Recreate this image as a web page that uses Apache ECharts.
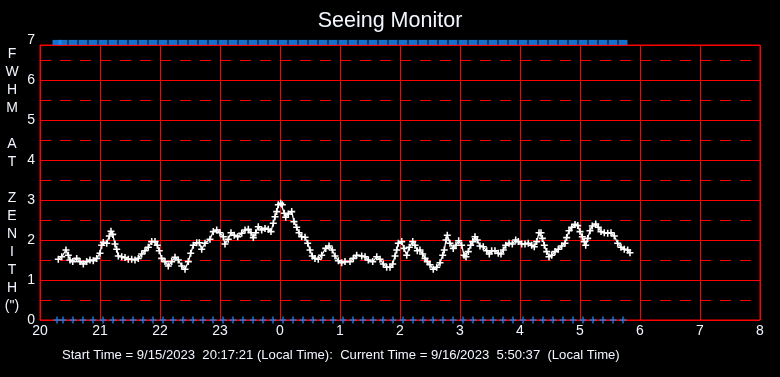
<!DOCTYPE html>
<html>
<head>
<meta charset="utf-8">
<script src="https://cdn.jsdelivr.net/npm/echarts@6/dist/echarts.min.js"></script>
<style>
  html, body { margin: 0; padding: 0; background: #000; }
  #chart { width: 780px; height: 377px; }
</style>
</head>
<body>
<div id="chart"></div>
<script>
// hour of night (20 = 20:00, 24 = 0:00, 29.5 = 5:30)
const obsHours = [
  20.305, 20.362, 20.433, 20.472, 20.500, 20.545, 20.612, 20.667, 20.722, 20.778,
  20.833, 20.888, 20.945, 21.000, 21.028, 21.055, 21.112, 21.155, 21.183, 21.212,
  21.250, 21.278, 21.305, 21.362, 21.417, 21.472, 21.528, 21.583, 21.638, 21.695,
  21.750, 21.805, 21.862, 21.917, 21.955, 21.988, 22.028, 22.083, 22.138, 22.195,
  22.250, 22.305, 22.362, 22.417, 22.472, 22.512, 22.555, 22.612, 22.655, 22.695,
  22.750, 22.833, 22.888, 22.945, 23.000, 23.055, 23.083, 23.138, 23.183, 23.238,
  23.295, 23.362, 23.417, 23.472, 23.517, 23.555, 23.595, 23.638, 23.695, 23.750,
  23.805, 23.850, 23.888, 23.917, 23.945, 23.972, 24.012, 24.038, 24.072, 24.095,
  24.138, 24.195, 24.233, 24.278, 24.317, 24.362, 24.417, 24.462, 24.500, 24.538,
  24.583, 24.638, 24.695, 24.762, 24.817, 24.872, 24.917, 24.972, 25.028, 25.083,
  25.167, 25.222, 25.278, 25.362, 25.417, 25.472, 25.545, 25.612, 25.667, 25.722,
  25.778, 25.833, 25.878, 25.917, 25.945, 25.972, 26.028, 26.067, 26.112, 26.155,
  26.212, 26.250, 26.288, 26.333, 26.378, 26.417, 26.455, 26.500, 26.555, 26.612,
  26.667, 26.712, 26.738, 26.767, 26.788, 26.833, 26.888, 26.933, 26.978, 27.028,
  27.067, 27.100, 27.138, 27.178, 27.212, 27.250, 27.288, 27.333, 27.388, 27.445,
  27.488, 27.528, 27.583, 27.638, 27.683, 27.722, 27.762, 27.817, 27.872, 27.928,
  27.972, 28.028, 28.083, 28.138, 28.195, 28.238, 28.278, 28.317, 28.350, 28.372,
  28.405, 28.445, 28.483, 28.528, 28.583, 28.638, 28.695, 28.750, 28.778, 28.817,
  28.862, 28.917, 28.962, 29.000, 29.038, 29.072, 29.095, 29.128, 29.167, 29.205,
  29.262, 29.305, 29.350, 29.405, 29.462, 29.517, 29.572, 29.628, 29.683, 29.738,
  29.795, 29.833
];
const fwhmValues = [
  1.52, 1.58, 1.75, 1.62, 1.50, 1.46, 1.54, 1.46, 1.40, 1.46,
  1.50, 1.48, 1.54, 1.67, 1.87, 1.94, 1.92, 2.10, 2.22, 2.14,
  1.90, 1.77, 1.60, 1.58, 1.56, 1.52, 1.52, 1.50, 1.54, 1.65,
  1.73, 1.82, 1.96, 1.96, 1.87, 1.73, 1.54, 1.46, 1.35, 1.46,
  1.57, 1.50, 1.35, 1.27, 1.46, 1.67, 1.87, 1.93, 1.93, 1.77,
  1.92, 2.02, 2.21, 2.25, 2.18, 2.08, 1.90, 2.02, 2.18, 2.12,
  2.08, 2.17, 2.25, 2.27, 2.18, 2.06, 2.18, 2.33, 2.25, 2.29,
  2.27, 2.21, 2.42, 2.58, 2.71, 2.88, 2.92, 2.88, 2.67, 2.57,
  2.65, 2.71, 2.46, 2.32, 2.18, 2.08, 2.07, 1.92, 1.75, 1.60,
  1.54, 1.52, 1.62, 1.79, 1.85, 1.75, 1.60, 1.48, 1.43, 1.46,
  1.46, 1.54, 1.62, 1.60, 1.58, 1.50, 1.46, 1.58, 1.52, 1.40,
  1.32, 1.32, 1.40, 1.60, 1.75, 1.92, 1.96, 1.79, 1.62, 1.82,
  1.96, 1.87, 1.73, 1.75, 1.65, 1.54, 1.46, 1.38, 1.27, 1.32,
  1.43, 1.62, 1.75, 2.00, 2.12, 1.92, 1.79, 1.87, 1.98, 1.87,
  1.62, 1.58, 1.71, 1.87, 1.96, 2.08, 2.00, 1.85, 1.83, 1.73,
  1.65, 1.73, 1.73, 1.67, 1.65, 1.75, 1.87, 1.92, 1.90, 2.00,
  1.96, 1.90, 1.90, 1.92, 1.87, 1.83, 1.96, 2.18, 2.18, 2.04,
  1.87, 1.71, 1.58, 1.62, 1.71, 1.77, 1.85, 1.92, 2.06, 2.23,
  2.32, 2.39, 2.36, 2.21, 2.08, 1.96, 1.87, 2.04, 2.23, 2.35,
  2.40, 2.32, 2.21, 2.18, 2.17, 2.18, 2.10, 1.92, 1.82, 1.77,
  1.75, 1.68
];
// status markers (blue), clock times
const markTimes = [
  "20:17", "20:23", "20:33", "20:43", "20:53",
  "21:03", "21:13", "21:23", "21:33", "21:43", "21:53",
  "22:03", "22:13", "22:23", "22:33", "22:43", "22:53",
  "23:03", "23:13", "23:23", "23:33", "23:43", "23:53",
  "0:03", "0:13", "0:23", "0:33", "0:43", "0:53",
  "1:03", "1:13", "1:23", "1:33", "1:43", "1:53",
  "2:03", "2:13", "2:23", "2:33", "2:43", "2:53",
  "3:03", "3:13", "3:23", "3:33", "3:43", "3:53",
  "4:03", "4:13", "4:23", "4:33", "4:43", "4:53",
  "5:03", "5:13", "5:23", "5:33", "5:43"
];
const topMarkValue = 6.94;
const bottomMarkValue = 0;

const titleText = "Seeing Monitor";
const footerText = "Start Time = 9/15/2023  20:17:21 (Local Time):  Current Time = 9/16/2023  5:50:37  (Local Time)";
const yName = 'F\nW\nH\nM\n\nA\nT\n\nZ\nE\nN\nI\nT\nH\n(")';

const FONT = "'Liberation Sans', Arial, sans-serif";
const TEXT = "#f2f6ff";
const RED = "#ff0000";
const BLUE = "#1a8cff";
// "+" marker, arms a bit heavier than 1px so they stay bright
const PLUS = "path://M2.8,0H4.4V7.2H2.8ZM0,2.8H7.2V4.4H0Z";

function toHour(s) {
  const [h, m] = s.split(":").map(Number);
  const v = h + m / 60;
  return v < 12 ? v + 24 : v;
}

const fwhmData = obsHours.map((h, i) => [h, fwhmValues[i]]);
const markHours = markTimes.map(toHour);

const myEchart = echarts.init(document.getElementById("chart"));
myEchart.setOption({
  backgroundColor: "#000",
  animation: false,
  title: [
    {
      text: titleText,
      left: "center",
      top: 10,
      padding: 0,
      textStyle: { color: TEXT, fontSize: 21.5, fontWeight: "normal", fontFamily: FONT }
    },
    {
      text: footerText,
      left: 62,
      top: 349,
      padding: 0,
      textStyle: { color: TEXT, fontSize: 13.1, fontWeight: "normal", fontFamily: FONT }
    }
  ],
  grid: [
    { left: 40, right: 20, top: 45, bottom: 57, show: true, borderColor: RED, borderWidth: 1 },
    { left: 40, right: 20, top: 40, bottom: 57 }
  ],
  xAxis: [
    {
      type: "value", gridIndex: 0, min: 20, max: 32, interval: 1,
      axisLine: { show: false },
      axisTick: { show: false },
      axisLabel: {
        color: TEXT, fontSize: 14, fontFamily: FONT, margin: 4,
        formatter: v => String(v % 24)
      },
      splitLine: { show: true, lineStyle: { color: RED, width: 1 } }
    },
    { type: "value", gridIndex: 1, min: 20, max: 32, show: false }
  ],
  yAxis: [
    {
      type: "value", gridIndex: 0, min: 0, max: 6.875, interval: 1,
      axisLine: { show: false },
      axisTick: { show: false },
      axisLabel: { show: false },
      splitLine: { show: true, lineStyle: { color: RED, width: 1 } },
      minorTick: { show: false, splitNumber: 2 },
      minorSplitLine: { show: true, lineStyle: { color: RED, width: 1, type: [11, 9] } }
    },
    {
      // labels only; this axis reaches the full 0..7
      type: "value", gridIndex: 1, min: 0, max: 7, interval: 1,
      axisLine: { show: false },
      axisTick: { show: false },
      splitLine: { show: false },
      axisLabel: { color: TEXT, fontSize: 14, fontFamily: FONT, margin: 5 },
      name: yName,
      nameLocation: "middle",
      nameRotate: 0,
      nameGap: 28,
      nameTextStyle: { color: TEXT, fontSize: 14, fontFamily: FONT, lineHeight: 18, align: "center" }
    }
  ],
  series: [
    {
      name: "FWHM",
      type: "line",
      xAxisIndex: 0, yAxisIndex: 0,
      data: fwhmData,
      symbol: PLUS,
      symbolSize: 7,
      showAllSymbol: true,
      itemStyle: { color: "#fff" },
      lineStyle: { color: "#fff", width: 1.3 },
      z: 5
    },
    {
      name: "status-bottom",
      type: "scatter",
      xAxisIndex: 0, yAxisIndex: 0,
      data: markHours.map(h => [h, bottomMarkValue]),
      symbol: PLUS,
      symbolSize: 7,
      itemStyle: { color: BLUE },
      clip: false,
      z: 6
    },
    {
      name: "status-top",
      type: "scatter",
      xAxisIndex: 1, yAxisIndex: 1,
      data: markHours.map(h => [h, topMarkValue]),
      symbol: "rect",
      symbolSize: [9, 5],
      itemStyle: { color: BLUE },
      z: 6
    }
  ]
});
</script>
</body>
</html>
